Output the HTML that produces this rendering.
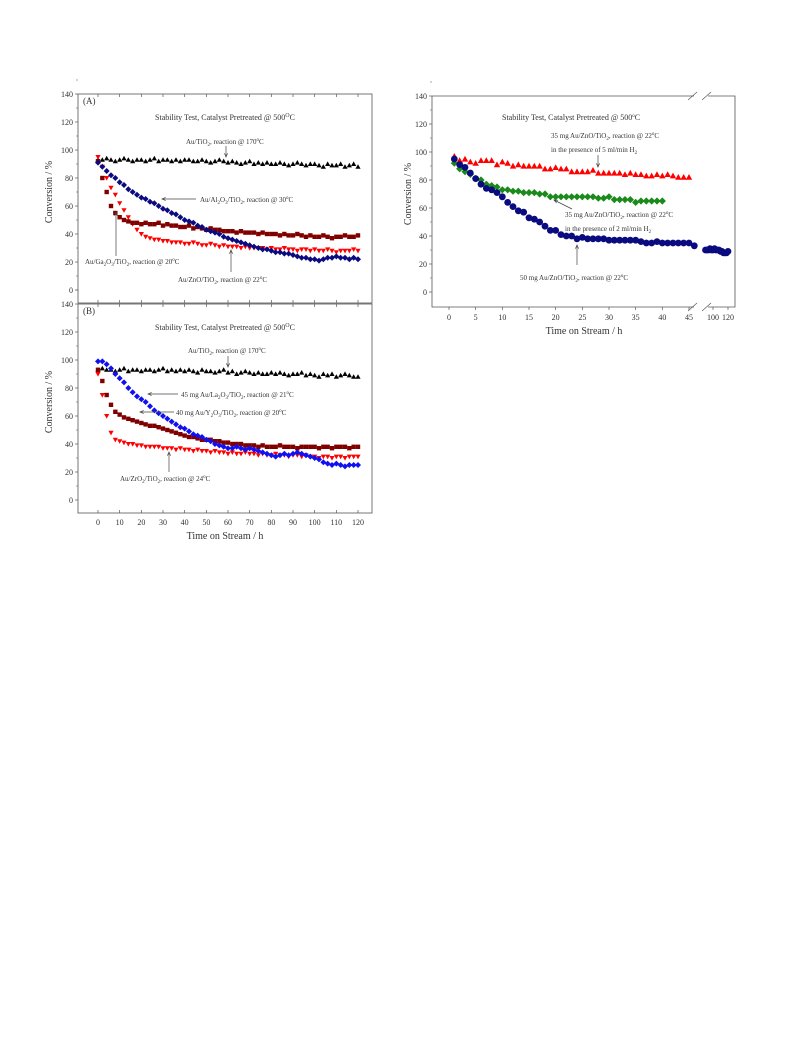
<!DOCTYPE html>
<html><head><meta charset="utf-8"><style>
html,body{margin:0;padding:0;background:#fff;}
svg{display:block;font-family:"Liberation Serif",serif;}
text{fill:#333;}
</style></head><body>
<svg id="fig" width="793" height="1059" viewBox="0 0 793 1059">
<g id="pa"></g>
<g id="pb"></g>
<g id="pc"></g>
</svg>
<script>
// Panel A data (evenly spaced 0..120 h)
const aTiO2=[93,93,94,93,92,93,94,93,92,93,93,92,93,94,92,93,93,92,93,92,93,93,92,92,93,92,91,92,93,92,91,92,91,90,91,92,90,91,90,91,90,90,91,90,89,90,91,90,89,90,90,89,88,90,89,89,90,88,89,90,88];
const aAl=[91,88,85,82,80,77,75,72,70,68,66,65,63,62,60,58,57,55,54,52,50,49,48,46,45,43,42,41,40,38,37,36,35,34,33,32,31,30,29,29,28,27,27,26,26,25,24,23,23,22,22,21,22,23,23,24,23,23,22,23,22];
const aZn=[95,88,80,73,68,62,57,52,47,43,40,38,37,36,36,35,35,34,34,34,33,33,34,33,32,32,33,32,31,32,31,31,31,30,31,30,30,30,30,29,30,29,29,30,29,29,28,29,29,28,29,28,28,29,28,27,28,28,28,29,28];
const aGa=[92,80,70,60,55,52,50,49,48,48,47,48,47,47,48,46,47,46,46,45,45,46,44,45,44,43,44,43,43,42,42,42,41,42,41,41,41,40,41,40,40,40,39,40,39,39,40,39,38,39,38,38,39,38,37,38,38,39,38,38,39];
// Panel B data
const bTiO2=[93,94,93,93,92,93,94,92,93,93,92,93,93,92,93,94,92,93,92,93,92,93,92,91,93,92,92,91,92,93,91,92,90,91,92,91,90,91,90,90,91,90,91,90,89,90,90,91,89,90,89,88,90,89,90,88,89,90,89,88,88];
const bLa=[99,99,97,94,90,87,84,80,77,74,72,70,67,64,62,60,58,56,54,52,51,49,47,46,45,43,42,40,39,38,37,37,38,37,36,37,36,35,34,33,32,31,32,33,32,33,34,33,32,31,30,29,27,26,25,26,25,24,25,25,25];
const bY=[93,85,75,68,63,61,59,58,57,56,55,54,53,53,52,51,50,49,48,47,46,45,45,44,43,43,43,42,42,41,41,40,40,40,39,39,39,38,39,38,38,38,39,38,38,38,37,38,38,38,38,37,38,38,37,38,38,38,37,38,38];
const bZr=[90,75,60,48,43,42,41,40,40,39,39,38,38,38,38,37,37,37,36,37,36,36,35,36,35,35,34,35,34,34,33,34,33,33,34,33,33,32,33,32,32,33,32,32,31,32,32,31,32,31,31,30,31,31,30,31,31,30,31,31,31];
// Right panel data
const cRedH=[1,2,3,4,5,6,7,8,9,10,11,12,13,14,15,16,17,18,19,20,21,22,23,24,25,26,27,28,29,30,31,32,33,34,35,36,37,38,39,40,41,42,43,44,45];
const cRed=[97,94,95,93,92,94,94,94,91,93,92,90,91,90,90,90,90,88,88,89,88,88,86,86,86,86,87,85,85,85,85,85,84,85,84,84,83,83,84,83,84,83,82,82,82];
const cGreenH=[1,2,3,4,5,6,7,8,9,10,11,12,13,14,15,16,17,18,19,20,21,22,23,24,25,26,27,28,29,30,31,32,33,34,35,36,37,38,39,40];
const cGreen=[92,88,86,84,81,80,77,76,75,73,73,72,72,71,71,71,70,70,68,68,68,68,68,68,68,68,68,67,67,68,66,66,66,66,64,65,65,65,65,65];
const cBlueH=[1,2,3,4,5,6,7,8,9,10,11,12,13,14,15,16,17,18,19,20,21,22,23,24,25,26,27,28,29,30,31,32,33,34,35,36,37,38,39,40,41,42,43,44,45,46,90,92,94,96,98,100,102,104,106,108,110,112,114,116,118,120];
const cBlue=[95,91,89,85,81,77,74,73,71,68,64,61,58,57,53,52,50,47,44,44,41,40,40,38,39,38,38,38,38,37,37,37,37,37,37,36,35,35,36,35,35,35,35,35,35,33,30,30,30,31,30,30,31,30,30,30,29,29,28,28,28,29];
const yTicks=[0,20,40,60,80,100,120,140];
const xTicksL=[0,10,20,30,40,50,60,70,80,90,100,110,120];
const xTicksR1=[0,5,10,15,20,25,30,35,40,45];
const xTicksR2=[100,120];

const NS='http://www.w3.org/2000/svg';
function el(p,tag,at){const e=document.createElementNS(NS,tag);for(const k in at)e.setAttribute(k,at[k]);p.appendChild(e);return e;}
function txt(p,x,y,s,size,anchor,name){const t=el(p,'text',{x:x,y:y,'font-size':size,'text-anchor':anchor||'start'});t.innerHTML=s;


return t;}
function arrow(p,x1,y1,x2,y2,name){const g=el(p,'g',{});


el(g,'line',{x1:x1,y1:y1,x2:x2,y2:y2,stroke:'#444','stroke-width':0.7});
const a=Math.atan2(y2-y1,x2-x1),L=4;
el(g,'path',{d:`M${x2-L*Math.cos(a-0.4)},${y2-L*Math.sin(a-0.4)} L${x2},${y2} L${x2-L*Math.cos(a+0.4)},${y2-L*Math.sin(a+0.4)}`,fill:'none',stroke:'#444','stroke-width':0.7});}
function marker(p,shape,x,y,col,name){let m;
if(shape==='sq')m=el(p,'rect',{x:x-2.2,y:y-2.2,width:4.4,height:4.4,fill:col});
else if(shape==='tri')m=el(p,'path',{d:`M${x-2.6},${y+2} L${x+2.6},${y+2} L${x},${y-2.6}Z`,fill:col});
else if(shape==='dtri')m=el(p,'path',{d:`M${x-2.6},${y-2} L${x+2.6},${y-2} L${x},${y+2.6}Z`,fill:col});
else if(shape==='dia')m=el(p,'path',{d:`M${x},${y-3} L${x+3},${y} L${x},${y+3} L${x-3},${y}Z`,fill:col});
else if(shape==='bigtri')m=el(p,'path',{d:`M${x-3.2},${y+2.6} L${x+3.2},${y+2.6} L${x},${y-3.2}Z`,fill:col});
else if(shape==='bigdia')m=el(p,'path',{d:`M${x},${y-3.6} L${x+3.6},${y} L${x},${y+3.6} L${x-3.6},${y}Z`,fill:col});
else m=el(p,'circle',{cx:x,cy:y,r:3.4,fill:col});

}

function leftPanel(g,top0,frameTop,frameBot,showX,series,label){
  const y0=top0, X=h=>98+h*260/120, Y=v=>y0-v*1.4;
  el(g,'rect',{x:78,y:frameTop,width:294,height:frameBot-frameTop,fill:'none',stroke:'#555','stroke-width':0.8});
  yTicks.forEach(v=>{el(g,'line',{x1:75,x2:78,y1:Y(v),y2:Y(v),stroke:'#555','stroke-width':0.7});
    el(g,'line',{x1:76,x2:78,y1:Y(v+10),y2:Y(v+10),stroke:'#555','stroke-width':0.5});
    txt(g,73,Y(v)+3,v,8,'end','y-tick-label');});
  xTicksL.forEach(v=>{el(g,'line',{x1:X(v),x2:X(v),y1:frameBot,y2:frameBot-3,stroke:'#555','stroke-width':0.7});
    el(g,'line',{x1:X(v),x2:X(v),y1:frameTop,y2:frameTop+3,stroke:'#555','stroke-width':0.7});
    if(showX)txt(g,X(v),frameBot+12,v,8,'middle','x-tick-label');});
  const yt=txt(g,0,0,'Conversion / %',10,'middle','y-axis-title');yt.setAttribute('transform',`translate(52,${Y(70)}) rotate(-90)`);
  if(showX)txt(g,225,frameBot+26,'Time on Stream / h',10,'middle','x-axis-title');
  txt(g,83,frameTop+10,label,9,'start','panel-label');
  txt(g,225,frameTop+26,'Stability Test, Catalyst Pretreated @ 500<tspan font-size="6" dy="-3">O</tspan><tspan dy="3">C</tspan>',8,'middle','panel-title');
  series.forEach(s=>{const sg=el(g,'g',{});
    
    
    s.d.forEach((v,i)=>marker(sg,s.shape,X(i*120/(s.d.length-1)),Y(v),s.col,'data-point'));});
}
const pa=document.getElementById('pa'),pb=document.getElementById('pb'),pc=document.getElementById('pc');
leftPanel(pa,290,94,303,false,[
 {name:'series-au-tio2',d:aTiO2,shape:'tri',col:'#000'},
 {name:'series-au-zno-tio2',d:aZn,shape:'dtri',col:'#f00'},
 {name:'series-au-ga2o3-tio2',d:aGa,shape:'sq',col:'#800000'},
 {name:'series-au-al2o3-tio2',d:aAl,shape:'dia',col:'#0b0b80'}],'(A)');
txt(pa,186,144,'Au/TiO<tspan font-size="5" dy="2">2</tspan><tspan dy="-2">, reaction @ 170</tspan><tspan font-size="5" dy="-3">o</tspan><tspan dy="3">C</tspan>',7,'start','label-au-tio2');
arrow(pa,226,146,226,157,'arrow-au-tio2');
txt(pa,200,202,'Au/Al<tspan font-size="5" dy="2">2</tspan><tspan dy="-2">O</tspan><tspan font-size="5" dy="2">3</tspan><tspan dy="-2">/TiO</tspan><tspan font-size="5" dy="2">2</tspan><tspan dy="-2">, reaction @ 30</tspan><tspan font-size="5" dy="-3">o</tspan><tspan dy="3">C</tspan>',7,'start','label-au-al2o3');
arrow(pa,196,199,162,199,'arrow-au-al2o3');
txt(pa,85,264,'Au/Ga<tspan font-size="5" dy="2">2</tspan><tspan dy="-2">O</tspan><tspan font-size="5" dy="2">3</tspan><tspan dy="-2">/TiO</tspan><tspan font-size="5" dy="2">2</tspan><tspan dy="-2">, reaction @ 20</tspan><tspan font-size="5" dy="-3">o</tspan><tspan dy="3">C</tspan>',7,'start','label-au-ga2o3');
arrow(pa,116,256,116,212,'arrow-au-ga2o3');
txt(pa,178,282,'Au/ZnO/TiO<tspan font-size="5" dy="2">2</tspan><tspan dy="-2">, reaction @ 22</tspan><tspan font-size="5" dy="-3">o</tspan><tspan dy="3">C</tspan>',7,'start','label-au-zno');
arrow(pa,231,272,231,250,'arrow-au-zno');

leftPanel(pb,500,304,513,true,[
 {name:'series-au-tio2',d:bTiO2,shape:'tri',col:'#000'},
 {name:'series-au-zro2-tio2',d:bZr,shape:'dtri',col:'#f00'},
 {name:'series-au-y2o3-tio2',d:bY,shape:'sq',col:'#800000'},
 {name:'series-au-la2o3-tio2',d:bLa,shape:'dia',col:'#1010f0'}],'(B)');
txt(pb,188,353,'Au/TiO<tspan font-size="5" dy="2">2</tspan><tspan dy="-2">, reaction @ 170</tspan><tspan font-size="5" dy="-3">o</tspan><tspan dy="3">C</tspan>',7,'start','label-au-tio2');
arrow(pb,228,356,228,367,'arrow-au-tio2');
txt(pb,181,397,'45 mg Au/La<tspan font-size="5" dy="2">2</tspan><tspan dy="-2">O</tspan><tspan font-size="5" dy="2">3</tspan><tspan dy="-2">/TiO</tspan><tspan font-size="5" dy="2">2</tspan><tspan dy="-2">, reaction @ 21</tspan><tspan font-size="5" dy="-3">o</tspan><tspan dy="3">C</tspan>',7,'start','label-au-la2o3');
arrow(pb,178,394,148,394,'arrow-au-la2o3');
txt(pb,176,415,'40 mg Au/Y<tspan font-size="5" dy="2">2</tspan><tspan dy="-2">O</tspan><tspan font-size="5" dy="2">3</tspan><tspan dy="-2">/TiO</tspan><tspan font-size="5" dy="2">2</tspan><tspan dy="-2">, reaction @ 20</tspan><tspan font-size="5" dy="-3">o</tspan><tspan dy="3">C</tspan>',7,'start','label-au-y2o3');
arrow(pb,174,412,140,412,'arrow-au-y2o3');
txt(pb,120,481,'Au/ZrO<tspan font-size="5" dy="2">2</tspan><tspan dy="-2">/TiO</tspan><tspan font-size="5" dy="2">2</tspan><tspan dy="-2">, reaction @ 24</tspan><tspan font-size="5" dy="-3">o</tspan><tspan dy="3">C</tspan>',7,'start','label-au-zro2');
arrow(pb,169,472,169,452,'arrow-au-zro2');

// Right panel
(function(){
 const g=pc, Y=v=>292-v*1.4;
 const X=h=>h<=50?449+h*5.333:713+(h-100)*0.75;
 const T=96,B=307,L=432,R=735;
 el(g,'path',{d:`M694,${T} L${L},${T} L${L},${B} L694,${B} M708,${B} L${R},${B} L${R},${T} L708,${T}`,fill:'none',stroke:'#555','stroke-width':0.8});
 [[688,697],[702,711]].forEach(([a,b])=>{el(g,'line',{x1:a,y1:T+4,x2:b,y2:T-4,stroke:'#555','stroke-width':0.7});el(g,'line',{x1:a,y1:B+4,x2:b,y2:B-4,stroke:'#555','stroke-width':0.7});});
 yTicks.forEach(v=>{el(g,'line',{x1:L-3,x2:L,y1:Y(v),y2:Y(v),stroke:'#555','stroke-width':0.7});
   el(g,'line',{x1:L-2,x2:L,y1:Y(v+10),y2:Y(v+10),stroke:'#555','stroke-width':0.5});
   txt(g,L-5,Y(v)+3,v,8,'end','y-tick-label');});
 xTicksR1.concat(xTicksR2).forEach(v=>{el(g,'line',{x1:X(v),x2:X(v),y1:B,y2:B+3,stroke:'#555','stroke-width':0.7});
   txt(g,X(v),B+13,v,8,'middle','x-tick-label');});
 const yt=txt(g,0,0,'Conversion / %',10,'middle','y-axis-title');yt.setAttribute('transform',`translate(411,${Y(70)}) rotate(-90)`);
 txt(g,584,334,'Time on Stream / h',10,'middle','x-axis-title');
 txt(g,502,120,'Stability Test, Catalyst Pretreated @ 500<tspan font-size="5" dy="-3">o</tspan><tspan dy="3">C</tspan>',8,'start','panel-title');
 const mk=(name,H,V,shape,col)=>{const sg=el(g,'g',{});
   
   
   V.forEach((v,i)=>marker(sg,shape,X(H[i]),Y(v),col,'data-point'));};
 mk('series-5ml-h2',cRedH,cRed,'bigtri','#f00');
 mk('series-2ml-h2',cGreenH,cGreen,'bigdia','#1a8a1a');
 mk('series-50mg-zno',cBlueH,cBlue,'circ','#0b0b80');
 txt(g,551,138,'35 mg Au/ZnO/TiO<tspan font-size="5" dy="2">2</tspan><tspan dy="-2">, reaction @ 22</tspan><tspan font-size="5" dy="-3">o</tspan><tspan dy="3">C</tspan>',7,'start','label-5ml-h2');
 txt(g,551,152,'in the presence of 5 ml/min H<tspan font-size="5" dy="2">2</tspan>',7,'start','label-5ml-h2-line2');
 arrow(g,598,155,598,167,'arrow-5ml-h2');
 txt(g,565,217,'35 mg Au/ZnO/TiO<tspan font-size="5" dy="2">2</tspan><tspan dy="-2">, reaction @ 22</tspan><tspan font-size="5" dy="-3">o</tspan><tspan dy="3">C</tspan>',7,'start','label-2ml-h2');
 txt(g,565,231,'in the presence of 2 ml/min H<tspan font-size="5" dy="2">2</tspan>',7,'start','label-2ml-h2-line2');
 arrow(g,572,209,554,200,'arrow-2ml-h2');
 txt(g,520,280,'50 mg Au/ZnO/TiO<tspan font-size="5" dy="2">2</tspan><tspan dy="-2">, reaction @ 22</tspan><tspan font-size="5" dy="-3">o</tspan><tspan dy="3">C</tspan>',7,'start','label-50mg-zno');
 arrow(g,577,265,577,245,'arrow-50mg-zno');
})();
</script>
</body></html>
